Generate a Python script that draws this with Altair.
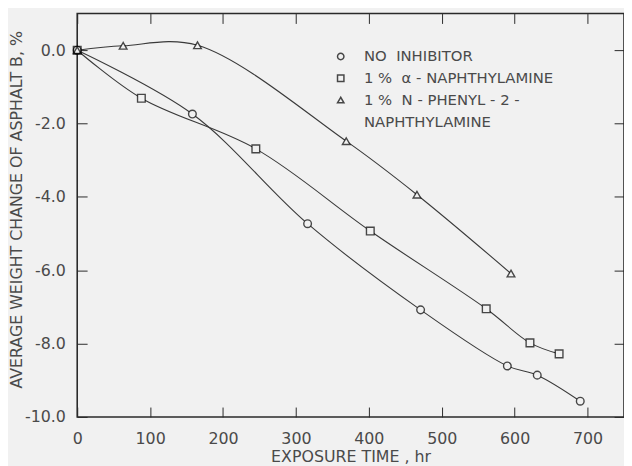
import altair as alt
import pandas as pd

# --- data ---
t_none = [0, 158, 316, 471, 590, 631, 690]
w_none = [0, -1.74, -4.73, -7.08, -8.61, -8.86, -9.57]

t_naph = [0, 88, 245, 402, 561, 621, 661]
w_naph = [0, -1.31, -2.69, -4.93, -7.05, -7.98, -8.28]

t_phen = [0, 63, 165, 369, 466, 595]
w_phen = [0, 0.12, 0.135, -2.48, -3.94, -6.09]

series_names = ["NO INHIBITOR", "1% α-NAPHTHYLAMINE", "1% N-PHENYL-2-NAPHTHYLAMINE"]
legend_domain = series_names + ["(cont.)"]
legend_text = [
    "NO\u00a0\u00a0INHIBITOR",
    "1\u00a0%\u00a0\u00a0α\u00a0-\u00a0NAPHTHYLAMINE",
    "1\u00a0%\u00a0\u00a0N\u00a0-\u00a0PHENYL\u00a0-\u00a02\u00a0-",
    "\u00a0\u00a0\u00a0NAPHTHYLAMINE",
]
series_shapes = ["circle", "square", "triangle-up"]
shape_range = series_shapes + ["M0,0"]

x_ticks = list(range(0, 751, 50))
y_ticks = list(range(-10, 2, 1))

rows = []
for name, ts, ws in zip(series_names, [t_none, t_naph, t_phen], [w_none, w_naph, w_phen]):
    for t, w in zip(ts, ws):
        rows.append({"series": name, "t": t, "w": w})
df = pd.DataFrame(rows)

BG = "#f1f1f1"
INK = "#2a2a2a"
TXT = "#4a4a4a"
FONT = "DejaVu Sans"
W, H = 553, 408
MSIZE = 60

label_map = "{" + ",".join(f"'{d}':'{l}'" for d, l in zip(legend_domain, legend_text)) + "}"

x_enc = alt.X(
    "t:Q",
    scale=alt.Scale(domain=[0, 750], nice=False, zero=False),
    axis=alt.Axis(
        title="EXPOSURE TIME , hr",
        values=x_ticks,
        labelExpr="datum.value % 100 == 0 && datum.value < 750 ? datum.value + '' : ''",
        ticks=False, tickSize=0, domain=False,
        grid=True, gridColor=INK, gridWidth=1, gridDash=[10, H - 20],
        labelPadding=14, labelFontSize=16, labelColor=TXT, labelFont=FONT,
        titleFontSize=16, titleColor=TXT, titleFont=FONT, titleFontWeight="normal",
        titlePadding=2, labelFlush=False, labelOverlap=False,
    ),
)
y_enc = alt.Y(
    "w:Q",
    scale=alt.Scale(domain=[-10, 1], nice=False, zero=False),
    axis=alt.Axis(
        title="AVERAGE WEIGHT CHANGE OF ASPHALT B, %",
        values=y_ticks,
        labelExpr="datum.value % 2 == 0 ? replace(format(datum.value, '.1f'), '\u2212', '-') : ''",
        ticks=False, tickSize=0, domain=False,
        grid=True, gridColor=INK, gridWidth=1, gridDash=[10, W - 20],
        labelPadding=12, labelFontSize=16, labelColor=TXT, labelFont=FONT,
        titleFontSize=16, titleColor=TXT, titleFont=FONT, titleFontWeight="normal",
        titleX=-56, titleY=198, titleBaseline="alphabetic",
        labelFlush=False, labelOverlap=False,
    ),
)

legend = alt.Legend(
    title=None, orient="none", legendX=259, legendY=36,
    labelExpr=f"{label_map}[datum.label]",
    labelFontSize=15, labelColor=TXT, labelFont=FONT, labelLimit=400,
    labelOffset=16, rowPadding=6, symbolSize=42,
)

lines = alt.Chart(df).mark_line(color="#3a3a3a", strokeWidth=1.1, interpolate="catmull-rom").encode(
    x=x_enc, y=y_enc, detail="series:N"
)

# background-coloured fill under each hollow marker so the curves do not show through
masks = [
    alt.Chart(df)
    .transform_filter(alt.datum.series == name)
    .mark_point(filled=True, color=BG, opacity=1, size=MSIZE, shape=shp)
    .encode(x="t:Q", y="w:Q")
    for name, shp in zip(series_names, series_shapes)
]

points = alt.Chart(df).mark_point(filled=False, color="#000000", strokeWidth=1.4, size=MSIZE).encode(
    x="t:Q", y="w:Q",
    shape=alt.Shape("series:N", scale=alt.Scale(domain=legend_domain, range=shape_range), legend=legend),
)

chart = (
    alt.layer(lines, *masks, points)
    .properties(
        width=W, height=H, background=BG,
        autosize=alt.AutoSizeParams(type="none"),
        padding={"left": 70, "top": 3, "right": 0, "bottom": 47},
    )
    .configure_view(stroke=INK, strokeWidth=1.6)
)

chart.save("out.html", embed_options={"renderer": "svg", "actions": False})
